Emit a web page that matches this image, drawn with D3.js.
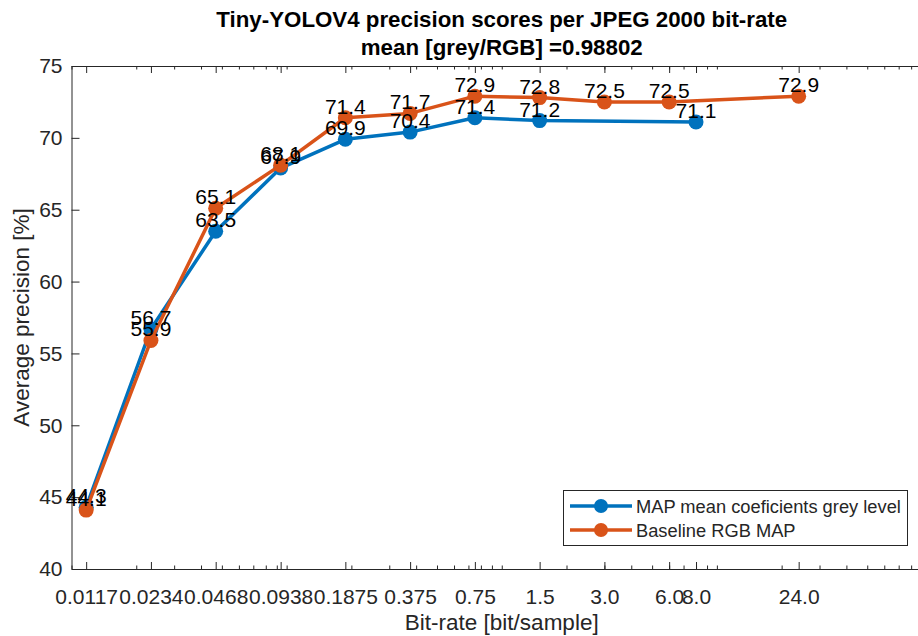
<!DOCTYPE html>
<html>
<head>
<meta charset="utf-8">
<script src="https://cdn.jsdelivr.net/npm/d3@7"></script>
<style>
  html, body { margin: 0; padding: 0; background: #fff; overflow: hidden; }
  svg { display: block; font-family: "Liberation Sans", Arial, Helvetica, sans-serif; }
</style>
</head>
<body>
<svg id="chart" width="918" height="636"></svg>
<script>
// Bit-rates used as x ticks (bit/sample) and their printed labels
const bitRates = [0.0117, 0.0234, 0.0468, 0.0938, 0.1875, 0.375, 0.75, 1.5, 3.0, 6.0, 8.0, 24.0];
const tickLabels = ["0.0117", "0.0234", "0.0468", "0.0938", "0.1875", "0.375", "0.75", "1.5", "3.0", "6.0", "8.0", "24.0"];
const yTicks = [40, 45, 50, 55, 60, 65, 70, 75];

// Series: mean-coefficient grey level MAP
const greyRates = [0.0117, 0.0234, 0.0468, 0.0938, 0.1875, 0.375, 0.75, 1.5, 8.0];
const greyMAP = [44.3, 56.7, 63.5, 67.9, 69.9, 70.4, 71.4, 71.2, 71.1];

// Series: baseline RGB MAP
const rgbRates = [0.0117, 0.0234, 0.0468, 0.0938, 0.1875, 0.375, 0.75, 1.5, 3.0, 6.0, 24.0];
const rgbMAP = [44.1, 55.9, 65.1, 68.1, 71.4, 71.7, 72.9, 72.8, 72.5, 72.5, 72.9];

const seriesNames = ["MAP mean coeficients grey level", "Baseline RGB MAP"];
const seriesColors = ["#0072BD", "#D95319"];

const axisColor = "#262626";
const svg = d3.select("#chart");

const plotLeft = 71.5, plotRight = 932, plotTop = 66, plotBottom = 569;
const x = d3.scaleLog().domain([0.01, 100]).range([plotLeft, plotRight]);
const y = d3.scaleLinear().domain([40, 75]).range([plotBottom, plotTop]);

// log-scale minor ticks: 1..9 x 10^k
const minorTicks = [];
for (let k = -2; k <= 1; k++) for (let d = 1; d <= 9; d++) minorTicks.push(d * Math.pow(10, k));

function styleAxis(g) {
  g.select(".domain").attr("stroke", axisColor).attr("stroke-width", 1);
  g.selectAll(".tick line").attr("stroke", axisColor).attr("stroke-width", 1);
  g.selectAll(".tick text").attr("fill", axisColor).attr("font-size", 21)
    .attr("font-family", "'Liberation Sans', Arial, Helvetica, sans-serif");
}

// minor ticks bottom / top
svg.append("g").attr("transform", `translate(0,${plotBottom})`)
  .call(d3.axisBottom(x).tickValues(minorTicks).tickSizeInner(-3.5).tickSizeOuter(0).tickFormat(""))
  .call(styleAxis);
svg.append("g").attr("transform", `translate(0,${plotTop})`)
  .call(d3.axisTop(x).tickValues(minorTicks).tickSizeInner(-3.5).tickSizeOuter(0).tickFormat(""))
  .call(styleAxis);

// major x ticks with labels
svg.append("g").attr("transform", `translate(0,${plotBottom})`)
  .call(d3.axisBottom(x).tickValues(bitRates).tickSizeInner(-7).tickSizeOuter(0)
    .tickFormat((d, i) => tickLabels[i]))
  .call(styleAxis)
  .call(g => g.selectAll(".tick text").attr("dy", "0.71em").attr("y", 20));
svg.append("g").attr("transform", `translate(0,${plotTop})`)
  .call(d3.axisTop(x).tickValues(bitRates).tickSizeInner(-7).tickSizeOuter(0).tickFormat(""))
  .call(styleAxis);

// y axes
svg.append("g").attr("transform", `translate(${plotLeft},0)`)
  .call(d3.axisLeft(y).tickValues(yTicks).tickSizeInner(-8).tickSizeOuter(0))
  .call(styleAxis)
  .call(g => g.selectAll(".tick text").attr("x", -9));
svg.append("g").attr("transform", `translate(${plotRight},0)`)
  .call(d3.axisRight(y).tickValues(yTicks).tickSizeInner(-8).tickSizeOuter(0).tickFormat(""))
  .call(styleAxis);

// data series
const series = [
  { rates: greyRates, values: greyMAP },
  { rates: rgbRates, values: rgbMAP }
];
const line = d3.line().x(d => x(d[0])).y(d => y(d[1]));

series.forEach((s, i) => {
  const pts = s.rates.map((r, j) => [r, s.values[j]]);
  const g = svg.append("g");
  g.append("path").datum(pts).attr("d", line)
    .attr("fill", "none").attr("stroke", seriesColors[i]).attr("stroke-width", 3.5)
    .attr("stroke-linejoin", "round");
  g.selectAll("circle").data(pts).join("circle")
    .attr("cx", d => x(d[0])).attr("cy", d => y(d[1])).attr("r", 7.5)
    .attr("fill", seriesColors[i]);
});

// value labels above each marker
series.forEach((s) => {
  svg.append("g").selectAll("text").data(s.rates.map((r, j) => [r, s.values[j]])).join("text")
    .attr("x", d => x(d[0])).attr("y", d => y(d[1]) - 4)
    .attr("text-anchor", "middle").attr("font-size", 21).attr("fill", "#000")
    .text(d => d3.format(".1f")(d[1]));
});

// titles and axis labels
svg.append("text").attr("x", (plotLeft + plotRight) / 2).attr("y", 27).attr("text-anchor", "middle")
  .attr("font-size", 22.3).attr("font-weight", "bold").attr("fill", "#000")
  .text("Tiny-YOLOV4 precision scores per JPEG 2000 bit-rate");
svg.append("text").attr("x", (plotLeft + plotRight) / 2).attr("y", 55).attr("text-anchor", "middle")
  .attr("font-size", 22.3).attr("font-weight", "bold").attr("fill", "#000")
  .text("mean [grey/RGB] =0.98802");
svg.append("text").attr("x", (plotLeft + plotRight) / 2).attr("y", 630).attr("text-anchor", "middle")
  .attr("font-size", 22.5).attr("fill", axisColor).text("Bit-rate [bit/sample]");
svg.append("text").attr("transform", `translate(29,${(plotTop + plotBottom) / 2}) rotate(-90)`)
  .attr("text-anchor", "middle").attr("font-size", 22.5).attr("fill", axisColor)
  .text("Average precision [%]");

// legend
const lg = svg.append("g");
lg.append("rect").attr("x", 563.5).attr("y", 490.5).attr("width", 344).attr("height", 55)
  .attr("fill", "#fff").attr("stroke", axisColor).attr("stroke-width", 1);
seriesNames.forEach((name, i) => {
  const cy = 506 + i * 24;
  lg.append("line").attr("x1", 570).attr("x2", 632).attr("y1", cy).attr("y2", cy)
    .attr("stroke", seriesColors[i]).attr("stroke-width", 3.5);
  lg.append("circle").attr("cx", 601).attr("cy", cy).attr("r", 7).attr("fill", seriesColors[i]);
  lg.append("text").attr("x", 636).attr("y", cy + 6.5).attr("font-size", 18.3)
    .attr("fill", axisColor).text(name);
});
</script>
</body>
</html>
